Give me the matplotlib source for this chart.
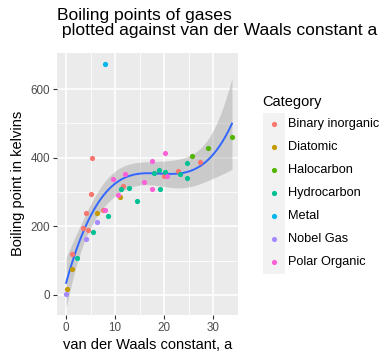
import numpy as np
import matplotlib
matplotlib.use("Agg")
import matplotlib.pyplot as plt
from matplotlib.patches import Rectangle

plt.rcParams['font.family'] = ['Liberation Sans', 'DejaVu Sans']

categories = ["Binary inorganic", "Diatomic", "Halocarbon", "Hydrocarbon",
              "Metal", "Nobel Gas", "Polar Organic"]
colors = ["#F8766D", "#C49A00", "#53B400", "#00C094", "#00B6EB", "#A58AFF", "#FB61D7"]

binary_x = [5.36, 5.1, 4.07, 7.47, 3.53, 4.55, 1.29, 11.6, 20.0, 22.9, 27.3]
binary_y = [398, 293, 239, 248, 194, 188, 119, 317, 348, 362, 386]
diatomic_x = [0.14, 1.29, 6.4, 11.07]
diatomic_y = [18, 75, 239, 284]
halo_x = [25.7, 29.0, 33.8]
halo_y = [405, 428, 459]
hydro_x = [2.2, 5.4, 8.6, 11.3, 12.8, 14.5, 18.0, 19.0, 20.2, 19.2, 23.2, 24.6, 24.7]
hydro_y = [107, 183, 229, 308, 311, 273, 354, 364, 357, 308, 352, 384, 340]
metal_x = [8.0]
metal_y = [672]
noble_x = [0.03, 4.0, 6.4]
noble_y = [3, 163, 212]
polar_x = [7.9, 9.6, 12.1, 10.66, 15.9, 17.6, 20.2, 17.6, 20.6]
polar_y = [248, 338, 351, 291, 328, 389, 413, 308, 348]

series = [(binary_x, binary_y), (diatomic_x, diatomic_y), (halo_x, halo_y),
          (hydro_x, hydro_y), (metal_x, metal_y), (noble_x, noble_y),
          (polar_x, polar_y)]

x_ticks = [0, 10, 20, 30]
y_ticks = [0, 200, 400, 600]

# ---- cubic linear-model smoother with 95% confidence band ----
X = np.concatenate([np.asarray(s[0], float) for s in series])
Y = np.concatenate([np.asarray(s[1], float) for s in series])
n = len(X)
D = np.vstack([X ** k for k in range(4)]).T
beta, *_ = np.linalg.lstsq(D, Y, rcond=None)
resid = Y - D @ beta
sigma = np.sqrt(np.sum(resid ** 2) / (n - 4))
XtX_inv = np.linalg.inv(D.T @ D)
tq = 2.021

xg = np.linspace(X.min(), X.max(), 80)
Dg = np.vstack([xg ** k for k in range(4)]).T
yg = Dg @ beta
se = sigma * np.sqrt(np.einsum("ij,jk,ik->i", Dg, XtX_inv, Dg))

# ---- figure ----
W_px, H_px = 391, 362
fig = plt.figure(figsize=(W_px / 100, H_px / 100), dpi=100)
left, right, top, bottom = 57, 238, 52.5, 315
ax = fig.add_axes([left / W_px, 1 - bottom / H_px, (right - left) / W_px, (bottom - top) / H_px])
ax.set_facecolor("#EBEBEB")
ax.set_xlim(-1.83, 35.03)
ax.set_ylim(-58.3, 706.4)
for s in ax.spines.values():
    s.set_visible(False)
ax.set_xticks(x_ticks)
ax.set_yticks(y_ticks)
ax.set_xticks([5, 15, 25, 35], minor=True)
ax.set_yticks([100, 300, 500], minor=True)
ax.grid(True, which="major", color="white", linewidth=1.1)
ax.grid(True, which="minor", color="white", linewidth=0.55)
ax.set_axisbelow(True)
ax.tick_params(which="major", length=2.8, width=0.8, color="#333333",
               labelcolor="#4D4D4D", labelsize=8.4, pad=2)
ax.tick_params(which="minor", length=0)

ax.fill_between(xg, yg - tq * se, yg + tq * se, color="#999999", alpha=0.4, linewidth=0, zorder=2)
ax.plot(xg, yg, color="#3366FF", linewidth=1.4, zorder=3)

for (xs, ys), c in zip(series, colors):
    ax.scatter(xs, ys, s=14, color=c, linewidths=0, zorder=4)

ax.set_xlabel("van der Waals constant, a", fontsize=10.5, labelpad=3)
ax.set_ylabel("Boiling point in kelvins", fontsize=10.5, labelpad=4)
fig.text(left / W_px, 1 - 8 / H_px,
         "Boiling points of gases\n plotted against van der Waals constant a",
         fontsize=12.6, ha="left", va="top", linespacing=1.0)

# ---- legend ----
lax = fig.add_axes([0, 0, 1, 1])
lax.set_xlim(0, W_px)
lax.set_ylim(H_px, 0)
lax.axis("off")
lax.text(262, 102, "Category", fontsize=10.5, ha="left", va="center")
key_y0 = 124.3
key_dy = 23.0
lax.add_patch(Rectangle((263, key_y0 - 11.5), 22, key_dy * len(categories), color="#F2F2F2", lw=0))
for i, (cat, c) in enumerate(zip(categories, colors)):
    yy = key_y0 + i * key_dy
    lax.scatter([273.5], [yy], s=14, color=c, linewidths=0)
    lax.text(288, yy, cat, fontsize=9.2, ha="left", va="center")

fig.savefig("out.png", dpi=100)
